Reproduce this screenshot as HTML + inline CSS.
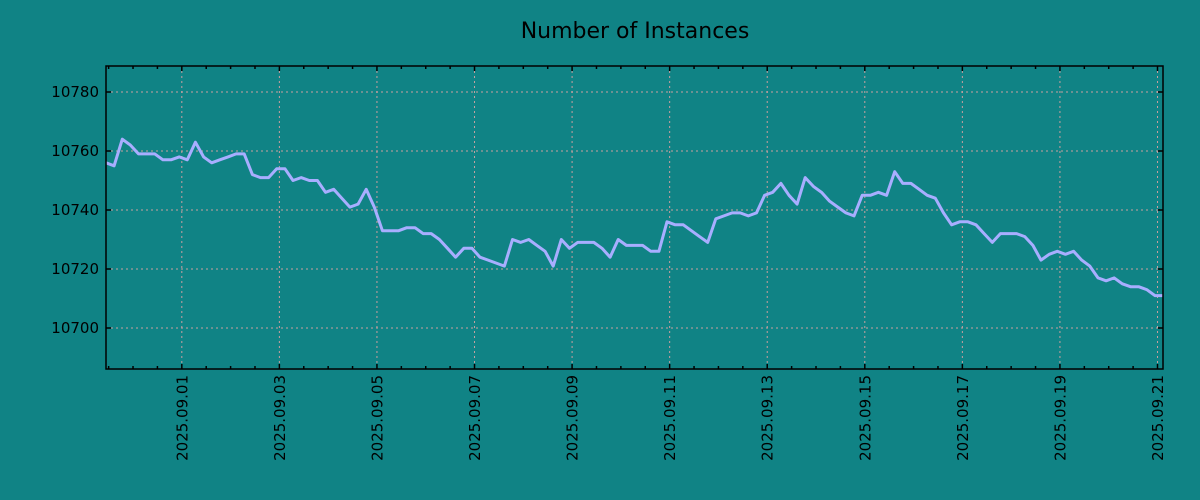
<!DOCTYPE html>
<html><head><meta charset="utf-8"><style>
body{margin:0;background:#108385;}
svg{display:block;font-family:"DejaVu Sans","Liberation Sans",sans-serif;}
</style></head><body>
<svg id="chart" width="1200" height="500">
<rect width="1200" height="500" fill="#108385"/>
<text x="635" y="38" font-size="22" text-anchor="middle" fill="#000">Number of Instances</text>
<g id="grid"></g><g id="series"></g><g id="axes"></g>
</svg>
<script>
const values = [10756,10755,10764,10762,10759,10759,10759,10757,10757,10758,10757,10763,10758,10756,10757,10758,10759,10759,10752,10751,10751,10754,10754,10750,10751,10750,10750,10746,10747,10744,10741,10742,10747,10741,10733,10733,10733,10734,10734,10732,10732,10730,10727,10724,10727,10727,10724,10723,10722,10721,10730,10729,10730,10728,10726,10721,10730,10727,10729,10729,10729,10727,10724,10730,10728,10728,10728,10726,10726,10736,10735,10735,10733,10731,10729,10737,10738,10739,10739,10738,10739,10745,10746,10749,10745,10742,10751,10748,10746,10743,10741,10739,10738,10745,10745,10746,10745,10753,10749,10749,10747,10745,10744,10739,10735,10736,10736,10735,10732,10729,10732,10732,10732,10731,10728,10723,10725,10726,10725,10726,10723,10721,10717,10716,10717,10715,10714,10714,10713,10711,10711];
const yTicks = [10700,10720,10740,10760,10780];
const xTickLabels = ["2025.09.01","2025.09.03","2025.09.05","2025.09.07","2025.09.09","2025.09.11","2025.09.13","2025.09.15","2025.09.17","2025.09.19","2025.09.21"];
const xTickDays = [0,2,4,6,8,10,12,14,16,18,20];
const startDay = -1.554;
const stepDay = 1/6;

const L=106,R=1163,T=66,B=369;
const dMin=startDay, dMax=startDay+(values.length-1)*stepDay;
const xs=d=>L+(d-dMin)/(dMax-dMin)*(R-L);
const ys=v=>92+(10780-v)*(328-92)/80;
const NS="http://www.w3.org/2000/svg";
function mk(tag,attrs,parent){const e=document.createElementNS(NS,tag);for(const k in attrs)e.setAttribute(k,attrs[k]);parent.appendChild(e);return e;}
const grid=document.getElementById('grid'),ser=document.getElementById('series'),ax=document.getElementById('axes');
yTicks.forEach(v=>{
  const g=mk('line',{x1:L,x2:R,y1:ys(v),y2:ys(v),stroke:'#c8a0a0','stroke-dasharray':'2,3','stroke-width':1},grid);
  
  
  const t=mk('line',{x1:L,x2:L+5,y1:ys(v),y2:ys(v),stroke:'#000','stroke-width':1.5},ax);
  
  
  const t2=mk('line',{x1:R-5,x2:R,y1:ys(v),y2:ys(v),stroke:'#000','stroke-width':1.5},ax);
  
  
  const lb=mk('text',{x:L-7,y:ys(v)+5,'font-size':15,'text-anchor':'end',fill:'#000'},ax);
  lb.textContent=v;
  
  
});
for(let d=Math.ceil(dMin*2)/2; d<=dMax; d+=0.5){
  const x=xs(d);
  const maj=xTickDays.indexOf(d)>=0;
  const len=maj?5:3;
  const a=mk('line',{x1:x,x2:x,y1:T,y2:T+len,stroke:'#000','stroke-width':1.5},ax);
  
  
  const b=mk('line',{x1:x,x2:x,y1:B-len,y2:B,stroke:'#000','stroke-width':1.5},ax);
  
  
}
xTickDays.forEach((d,i)=>{
  const x=xs(d);
  const g=mk('line',{x1:x,x2:x,y1:T,y2:B,stroke:'#c8a0a0','stroke-dasharray':'2,3','stroke-width':1},grid);
  
  
  const lb=mk('text',{x:0,y:0,'font-size':15,'text-anchor':'end',fill:'#000',transform:`translate(${x+5.5},${B+6}) rotate(-90)`},ax);
  lb.textContent=xTickLabels[i];
  
  
});
const pts=values.map((v,i)=>xs(dMin+i*stepDay).toFixed(1)+','+ys(v).toFixed(1)).join(' ');
const pl=mk('polyline',{points:pts,fill:'none',stroke:'#a8aeff','stroke-width':3,'stroke-linejoin':'round'},ser);


const fr=mk('rect',{x:L,y:T,width:R-L,height:B-T,fill:'none',stroke:'#000','stroke-width':1.5},ax);


</script>
</body></html>
